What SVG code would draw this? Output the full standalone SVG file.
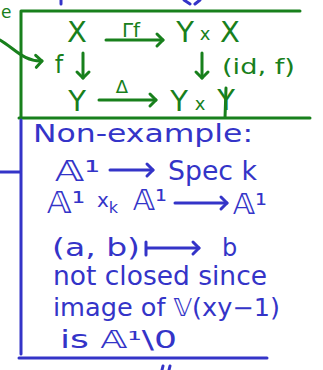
<svg xmlns="http://www.w3.org/2000/svg" width="323" height="370" viewBox="0 0 323 370">
<style>
.g{fill:#18801c;font-family:"DejaVu Sans","Noto Sans",sans-serif}
.b{fill:#3434c8;font-family:"DejaVu Sans","Noto Sans",sans-serif}
.gl{stroke:#18801c;stroke-width:3;fill:none;stroke-linecap:round}
.bl{stroke:#3434c8;stroke-width:3;fill:none;stroke-linecap:round}
</style>
<defs>
<marker id="ga" markerWidth="20" markerHeight="20" refX="0" refY="0" orient="auto" markerUnits="userSpaceOnUse" overflow="visible">
<path d="M-6,-6 L0,0 L-6,6" stroke="#18801c" stroke-width="3" fill="none" stroke-linecap="round" stroke-linejoin="round"/>
</marker>
<marker id="ba" markerWidth="20" markerHeight="20" refX="0" refY="0" orient="auto" markerUnits="userSpaceOnUse" overflow="visible">
<path d="M-6,-6 L0,0 L-6,6" stroke="#3434c8" stroke-width="3" fill="none" stroke-linecap="round" stroke-linejoin="round"/>
</marker>
</defs>
<rect width="323" height="370" fill="#fff"/>
<!-- partial marks at top -->
<path class="bl" d="M61,0 L61,4 M184,0 L190,4 M200,0 L195,4"/>
<!-- green frame -->
<g id="frame-green">
<path class="gl" d="M21,11 L300,11 M21,11 L21,118 M19,118 L310,118 M226,88 L225,118"/>
<text class="g" x="1" y="18" font-size="17">e</text>
</g>
<g id="X"><text class="g" x="77" y="42" font-size="29" text-anchor="middle">X</text></g>
<g id="YxX">
<text class="g" x="185" y="42" font-size="29" text-anchor="middle">Y</text>
<text class="g" x="205" y="40" font-size="18" text-anchor="middle">x</text>
<text class="g" x="230" y="42" font-size="29" text-anchor="middle">X</text>
</g>
<g id="Y"><text class="g" x="77" y="111" font-size="29" text-anchor="middle">Y</text></g>
<g id="YxY">
<text class="g" x="179" y="111" font-size="29" text-anchor="middle">Y</text>
<text class="g" x="200" y="110" font-size="18" text-anchor="middle">x</text>
<text class="g" x="226" y="110" font-size="29" text-anchor="middle">Y</text>
</g>
<g id="connectors">
<path class="gl" d="M106,40 L163,40" marker-end="url(#ga)"/>
<path class="gl" d="M99,100 L156,100" marker-end="url(#ga)"/>
<path class="gl" d="M83,53 L83,78" marker-end="url(#ga)"/>
<path class="gl" d="M202,53 L202,78" marker-end="url(#ga)"/>
<path class="gl" d="M0,40 C14,48 24,62 42,61" marker-end="url(#ga)"/>
<text class="g" x="131" y="37" font-size="20" text-anchor="middle">Γf</text>
<text class="g" x="122" y="93" font-size="18" text-anchor="middle">Δ</text>
<text class="g" x="59" y="73" font-size="24" text-anchor="middle">f</text>
<text class="g" x="222" y="74" font-size="21" textLength="73" lengthAdjust="spacingAndGlyphs">(id, f)</text>
</g>
<!-- blue frame -->
<g id="frame-blue">
<path class="bl" d="M21,120 L21,354 M0,172 L21,172 M19,358 L267,358 M163,366 L162,370 M170,366 L169,370"/>
</g>
<g id="notes">
<text class="b" x="33" y="142" font-size="24" textLength="220" lengthAdjust="spacingAndGlyphs">Non-example:</text>
<text class="b" x="55" y="181" font-size="28" textLength="45" lengthAdjust="spacingAndGlyphs">𝔸¹</text>
<path class="bl" d="M110,170 L153,170" marker-end="url(#ba)"/>
<text class="b" x="168" y="180" font-size="26" textLength="89" lengthAdjust="spacingAndGlyphs">Spec k</text>
<text class="b" x="47" y="213" font-size="30" textLength="38" lengthAdjust="spacingAndGlyphs">𝔸¹</text>
<text class="b" x="97" y="207" font-size="20">x<tspan font-size="16" dy="6">k</tspan></text>
<text class="b" x="133" y="210" font-size="28" textLength="34" lengthAdjust="spacingAndGlyphs">𝔸¹</text>
<path class="bl" d="M175,203 L227,203" marker-end="url(#ba)"/>
<text class="b" x="233" y="214" font-size="28" textLength="34" lengthAdjust="spacingAndGlyphs">𝔸¹</text>
<text class="b" x="52" y="256" font-size="24" textLength="88" lengthAdjust="spacingAndGlyphs">(a, b)</text>
<path class="bl" d="M146,242 L146,255 M146,248 L199,248" marker-end="url(#ba)"/>
<text class="b" x="222" y="256" font-size="24">b</text>
<text class="b" x="53" y="285" font-size="26" textLength="214" lengthAdjust="spacingAndGlyphs">not closed since</text>
<text class="b" x="53" y="316" font-size="24" textLength="227" lengthAdjust="spacingAndGlyphs">image of 𝕍(xy−1)</text>
<text class="b" x="60" y="348" font-size="24" textLength="117" lengthAdjust="spacingAndGlyphs">is 𝔸¹\0</text>
</g>
</svg>
